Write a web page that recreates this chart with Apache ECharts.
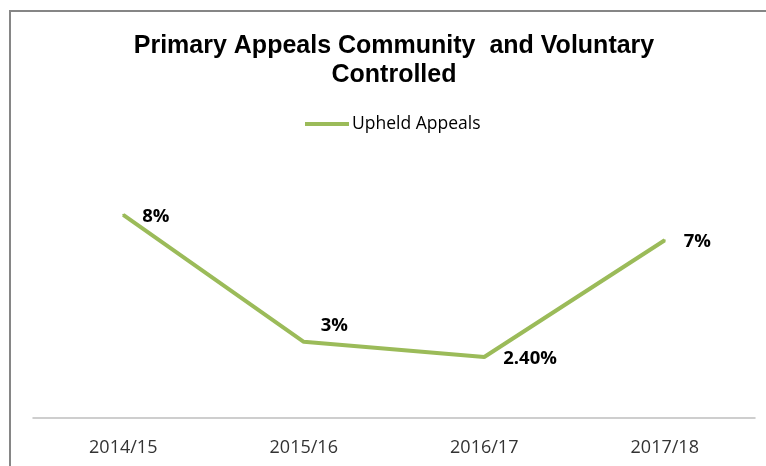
<!DOCTYPE html>
<html>
<head>
<meta charset="utf-8">
<script src="https://cdn.jsdelivr.net/npm/echarts@6/dist/echarts.min.js"></script>
<style>
    html, body { margin: 0; padding: 0; background: #fff; }
    #main { width: 766px; height: 466px; }
</style>
</head>
<body>
<div id="main"></div>
<script>
    // data
    var years = ['2014/15', '2015/16', '2016/17', '2017/18']
    var upheld = [8, 3, 2.4, 7]
    var upheldLabels = ['8%', '3%', '2.40%', '7%']

    var myChart = echarts.init(document.getElementById('main'))

    // label offsets per point
    var points = upheld.map(function (v, i) {
        var p = { value: v }
        if (i === 1) {
            p.label = { offset: [-2, -16] }
        }
        return p
    })

    var option = {
        backgroundColor: '#fff',
        animation: false,
        title: {
            text: 'Primary Appeals Community  and Voluntary\nControlled',
            left: 389,
            textAlign: 'center',
            top: 27,
            textStyle: {
                fontFamily: 'Liberation Sans',
                fontWeight: 'bold',
                fontSize: 25,
                lineHeight: 29,
                color: '#000'
            }
        },
        legend: {
            left: 300,
            top: 110,
            icon: 'rect',
            itemWidth: 44,
            itemHeight: 4,
            itemGap: 3,
            textStyle: {
                fontFamily: 'Open Sans',
                fontSize: 17.5,
                color: '#000',
                padding: [0, 0, 0, -2]
            },
            data: ['Upheld Appeals']
        },
        grid: {
            left: 33,
            right: 11,
            top: 164,
            bottom: 48
        },
        xAxis: {
            type: 'category',
            data: years,
            axisLine: { lineStyle: { color: '#bfbfbf', width: 1.5 } },
            axisTick: { show: false },
            axisLabel: {
                margin: 21,
                fontFamily: 'Open Sans',
                fontSize: 18,
                color: '#333'
            }
        },
        yAxis: {
            type: 'value',
            min: 0,
            max: 10,
            show: false
        },
        series: [
            {
                name: 'Upheld Appeals',
                type: 'line',
                data: points,
                symbol: 'circle',
                symbolSize: 2,
                showSymbol: true,
                color: '#9bbb59',
                itemStyle: { color: '#9bbb59' },
                lineStyle: { width: 4, color: '#9bbb59' },
                label: {
                    show: true,
                    position: 'right',
                    distance: 18,
                    offset: [0, 2],
                    formatter: function (p) {
                        return upheldLabels[p.dataIndex]
                    },
                    fontFamily: 'Open Sans',
                    fontWeight: 'bold',
                    fontSize: 18.5,
                    color: '#000'
                }
            }
        ],
        // outer border of the chart area
        graphic: [
            {
                type: 'polyline',
                shape: { points: [[10, 470], [10, 11], [770, 11]] },
                style: { stroke: '#868686', lineWidth: 2, fill: null }
            }
        ]
    }

    myChart.setOption(option)
</script>
</body>
</html>
